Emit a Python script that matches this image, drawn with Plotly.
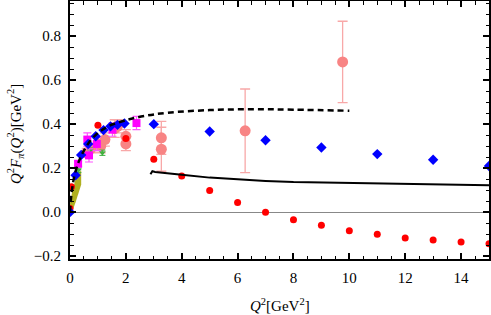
import plotly.graph_objects as go

# ---- data ----
red_x = [0.0, 0.05, 1.0, 2.0, 3.0, 4.0, 5.0, 6.0, 7.0, 8.0, 9.0, 10.0, 11.0, 12.0, 13.0, 14.0, 15.0]
red_y = [0.017, 0.115, 0.395, 0.335, 0.24, 0.164, 0.099, 0.044, 0.0, -0.035, -0.06, -0.085, -0.101, -0.117, -0.127, -0.136, -0.144]

blue_x = [0.0, 0.2, 0.4, 0.65, 0.92, 1.2, 1.45, 1.7, 1.95, 3.0, 5.0, 7.0, 9.0, 11.0, 13.0, 15.0]
blue_y = [0.0, 0.168, 0.26, 0.31, 0.345, 0.373, 0.39, 0.397, 0.403, 0.40, 0.367, 0.327, 0.294, 0.264, 0.238, 0.21]

dash_x = [0.0, 0.05, 0.15, 0.3, 0.45, 0.7, 1.0, 1.4, 2.0, 2.7, 3.5, 5.0, 6.5, 8.0, 10.0]
dash_y = [0.0, 0.08, 0.16, 0.225, 0.268, 0.32, 0.36, 0.392, 0.418, 0.438, 0.452, 0.464, 0.468, 0.466, 0.461]

solid_x = [2.88, 2.95, 3.05, 3.3, 4.0, 5.0, 6.0, 7.0, 8.0, 10.0, 12.0, 15.0]
solid_y = [0.172, 0.186, 0.183, 0.179, 0.17, 0.157, 0.148, 0.142, 0.137, 0.132, 0.127, 0.122]

pink_x = [0.6, 0.75, 1.0, 1.1, 1.25, 1.6, 1.7, 2.0, 2.0, 3.27, 3.27, 6.27, 9.76]
pink_y = [0.27, 0.29, 0.31, 0.30, 0.33, 0.38, 0.39, 0.345, 0.31, 0.338, 0.286, 0.37, 0.683]
pink_err = [0.02, 0.02, 0.03, 0.03, 0.03, 0.04, 0.03, 0.03, 0.03, 0.075, 0.1, 0.19, 0.185]

mag_x = [0.29, 0.62, 0.68, 0.96, 1.52, 2.38]
mag_y = [0.22, 0.33, 0.258, 0.31, 0.375, 0.405]
mag_err = [0.012, 0.03, 0.03, 0.03, 0.03, 0.03]

green_x = [0.3, 0.72, 1.16]
green_y = [0.19, 0.28, 0.27]
green_err = [0.01, 0.012, 0.012]

band_x = [0.0, 0.1, 0.2, 0.3, 0.4]
band_lo = [0.0, 0.01, 0.045, 0.09, 0.125]
band_hi = [0.04, 0.105, 0.15, 0.175, 0.19]

x_ticks = [0, 2, 4, 6, 8, 10, 12, 14]
y_ticks = [-0.2, 0.0, 0.2, 0.4, 0.6, 0.8]
y_ticktext = ["\u22120.2", "0.0", "0.2", "0.4", "0.6", "0.8"]

FONT = "Liberation Serif"

fig = go.Figure()

# olive band
fig.add_trace(go.Scatter(x=band_x, y=band_lo, mode="lines", line=dict(width=0, color="#A8A818"),
                         showlegend=False, hoverinfo="skip"))
fig.add_trace(go.Scatter(x=band_x, y=band_hi, mode="lines", line=dict(width=0, color="#A8A818"),
                         fill="tonexty", fillcolor="#B0B020", showlegend=False, hoverinfo="skip"))

# pink circles with error bars
fig.add_trace(go.Scatter(x=pink_x, y=pink_y, mode="markers",
                         marker=dict(size=11, color="#F88484"),
                         error_y=dict(type="data", array=pink_err, color="#F8A8A8", thickness=1.3, width=5),
                         showlegend=False))

# green points
fig.add_trace(go.Scatter(x=green_x, y=green_y, mode="markers",
                         marker=dict(size=6, color="#40B040", symbol="triangle-down"),
                         error_y=dict(type="data", array=green_err, color="#40B040", thickness=1, width=3),
                         showlegend=False))

# magenta squares
fig.add_trace(go.Scatter(x=mag_x, y=mag_y, mode="markers",
                         marker=dict(size=8, color="#FF00FF", symbol="square"),
                         error_y=dict(type="data", array=mag_err, color="#FF55FF", thickness=1.2, width=4),
                         showlegend=False))

# red dots
fig.add_trace(go.Scatter(x=red_x, y=red_y, mode="markers",
                         marker=dict(size=7, color="#FF0000"), showlegend=False))

# blue diamonds
fig.add_trace(go.Scatter(x=blue_x, y=blue_y, mode="markers",
                         marker=dict(size=8, color="#0000FF", symbol="diamond"), showlegend=False))

# dashed curve
fig.add_trace(go.Scatter(x=dash_x, y=dash_y, mode="lines", line_shape="spline",
                         line=dict(color="black", width=2.5, dash="6px,4px"), showlegend=False))

# solid curve
fig.add_trace(go.Scatter(x=solid_x, y=solid_y, mode="lines",
                         line=dict(color="black", width=2), showlegend=False))

axis_common = dict(
    showline=True, linecolor="black", linewidth=2, mirror="allticks",
    ticks="inside", ticklen=6, tickwidth=1.5, tickcolor="black",
    showgrid=False, automargin=False,
    tickfont=dict(family=FONT, size=15, color="black"),
)

fig.update_xaxes(range=[0, 15], tickvals=x_ticks, ticktext=[str(v) for v in x_ticks],
                 minor=dict(dtick=0.5, tick0=0, ticklen=3.5, tickwidth=1.2, tickcolor="black", ticks="inside"),
                 zeroline=False, ticklabelstandoff=4, **axis_common)
fig.update_yaxes(range=[-0.213, 0.96], tickvals=y_ticks, ticktext=y_ticktext,
                 minor=dict(dtick=0.05, tick0=0, ticklen=3.5, tickwidth=1.2, tickcolor="black", ticks="inside"),
                 zeroline=True, zerolinecolor="#888888", zerolinewidth=1,
                 ticklabelstandoff=4, **axis_common)

fig.add_annotation(text="<i>Q</i><sup>2</sup>[GeV<sup>2</sup>]", xref="paper", yref="paper",
                   x=0.5, y=-0.178, xanchor="center", yanchor="middle", showarrow=False,
                   font=dict(family=FONT, size=15, color="black"))
fig.add_annotation(text="<i>Q</i><sup>2</sup><i>F</i><sub><i>π</i></sub>(<i>Q</i><sup>2</sup>)[GeV<sup>2</sup>]",
                   xref="paper", yref="paper", x=-0.131, y=0.485, textangle=-90,
                   xanchor="center", yanchor="middle", showarrow=False,
                   font=dict(family=FONT, size=15, color="black"))

fig.update_layout(width=491, height=315, margin=dict(l=70, r=2, t=1, b=56, autoexpand=False),
                  plot_bgcolor="white", paper_bgcolor="white", showlegend=False,
                  font=dict(family=FONT, size=15, color="black"))

fig.write_html("out.html", config={"displayModeBar": False},
               post_script="document.body.style.margin='0px';document.body.style.overflow='hidden';")
